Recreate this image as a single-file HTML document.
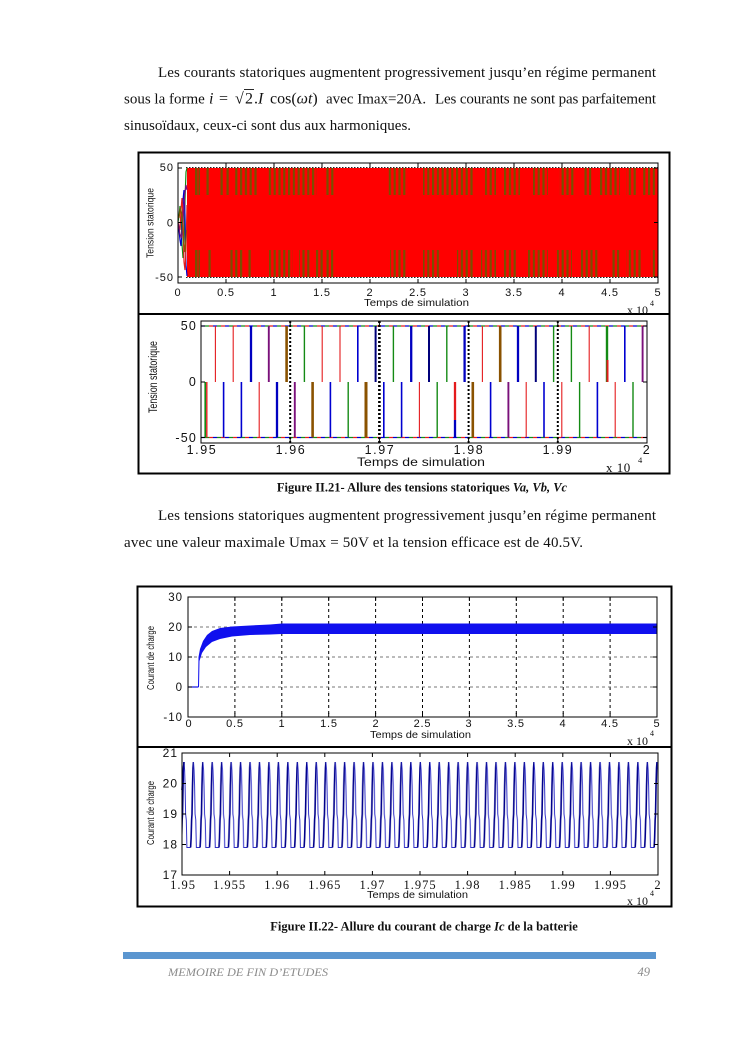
<!DOCTYPE html>
<html>
<head>
<meta charset="utf-8">
<style>
html,body{margin:0;padding:0;background:#fff;}
svg{display:block;}
.R{stroke:#e41a1c;stroke-width:1.1}
.B{stroke:#0000d0;stroke-width:1.6}
.Bk{stroke:#0000c0;stroke-width:2.3}
.N{stroke:#00007a;stroke-width:2}
.G{stroke:#148a14;stroke-width:1.4}
.Br{stroke:#8a5200;stroke-width:2.6}
.P{stroke:#7a107a;stroke-width:1.9}
.tk{font-family:"Liberation Sans",sans-serif;fill:#111;}
.sf{font-family:"Liberation Serif",serif;fill:#111;}
</style>
</head>
<body>
<svg width="745" height="1053" viewBox="0 0 745 1053" xmlns="http://www.w3.org/2000/svg">
<defs>
<pattern id="st" patternUnits="userSpaceOnUse" x="0" y="0" width="4.8" height="20">
<rect x="0" y="0" width="2.2" height="20" fill="#7a5000"/>
</pattern>
<pattern id="wave" patternUnits="userSpaceOnUse" x="184" y="0" width="9.46" height="1053">
<path d="M0,762 L0.6,770 L1.1,786 L1.6,814 L2.3,820 L2.9,847.5 L6.6,847.5" stroke="#3030c8" stroke-width="1" fill="none"/>
<path d="M6.6,847.5 L7.1,838 L7.6,820 L8.0,814 L8.5,786 L9.0,768 L9.46,762" stroke="#00008a" stroke-width="1.6" fill="none"/>
</pattern>
</defs>

<!-- Paragraph 1 -->
<g class="sf" font-size="15">
<text x="158" y="77" textLength="498" lengthAdjust="spacing">Les courants statoriques augmentent progressivement jusqu’en régime permanent</text>
<text x="124" y="103.5">sous la forme</text>
<text x="209" y="103.5" font-size="16"><tspan font-style="italic">i</tspan></text>
<text x="219" y="103.5" font-size="16">=</text>
<text x="235" y="103.5" font-size="16">√</text>
<text x="245" y="103.5" font-size="16">2</text>
<line x1="244" y1="89.5" x2="254" y2="89.5" stroke="#111" stroke-width="0.9"/>
<text x="254" y="103.5" font-size="16">.<tspan font-style="italic">I</tspan></text>
<text x="270" y="103.5" font-size="16">cos(<tspan font-style="italic">ωt</tspan>)</text>
<text x="326" y="103.5">avec Imax=20A.</text>
<text x="435" y="103.5" textLength="221" lengthAdjust="spacing">Les courants ne sont pas parfaitement</text>
<text x="124" y="130">sinusoïdaux, ceux-ci sont dus aux harmoniques.</text>
</g>

<!-- ============ FIGURE II.21 ============ -->
<rect x="138.5" y="152.5" width="531" height="321" fill="none" stroke="#000" stroke-width="2"/>
<line x1="138" y1="314" x2="670" y2="314" stroke="#000" stroke-width="2"/>

<!-- top subplot -->
<rect x="187" y="168" width="471" height="109" fill="#ff0000"/>
<g fill="#7a5000">
<rect x="195" y="168" width="2.5" height="27"/><rect x="198.5" y="168" width="1.5" height="27"/>
<rect x="206.5" y="168" width="2.2" height="27"/>
<rect x="220.5" y="168" width="2.2" height="27"/><rect x="226.5" y="168" width="2.2" height="27"/>
<rect x="195" y="250" width="2.5" height="27"/><rect x="198.5" y="250" width="1.5" height="27"/>
<rect x="208.5" y="250" width="2.2" height="27"/>
<rect x="248.5" y="250" width="2.2" height="27"/>
<rect x="316" y="250" width="2.2" height="27"/><rect x="320.5" y="250" width="2.2" height="27"/>
<rect x="326.5" y="250" width="2.2" height="27"/><rect x="331" y="250" width="2.2" height="27"/>
<rect x="612.5" y="250" width="2.2" height="27"/><rect x="617" y="250" width="2.2" height="27"/>
<rect x="584.5" y="168" width="2.2" height="27"/><rect x="589" y="168" width="2.2" height="27"/>
</g>
<g fill="url(#st)">
<rect x="235" y="168" width="22" height="27"/>
<rect x="268" y="168" width="49" height="27"/>
<rect x="325" y="168" width="9" height="27"/>
<rect x="387" y="168" width="19" height="27"/>
<rect x="423" y="168" width="52" height="27"/>
<rect x="485" y="168" width="11" height="27"/>
<rect x="504" y="168" width="16" height="27"/>
<rect x="533" y="168" width="15" height="27"/>
<rect x="559" y="168" width="16" height="27"/>
<rect x="598" y="168" width="22" height="27"/>
<rect x="626" y="168" width="11" height="27"/>
<rect x="643" y="168" width="14" height="27"/>
<rect x="228" y="250" width="15" height="27"/>
<rect x="269" y="250" width="24" height="27"/>
<rect x="299" y="250" width="11" height="27"/>
<rect x="390" y="250" width="16" height="27"/>
<rect x="423" y="250" width="18" height="27"/>
<rect x="457" y="250" width="18" height="27"/>
<rect x="481" y="250" width="15" height="27"/>
<rect x="502" y="250" width="15" height="27"/>
<rect x="526" y="250" width="22" height="27"/>
<rect x="557" y="250" width="15" height="27"/>
<rect x="581" y="250" width="18" height="27"/>
<rect x="626" y="250" width="15" height="27"/>
<rect x="650" y="250" width="7" height="27"/>
</g>
<line x1="186" y1="167.5" x2="658" y2="167.5" stroke="#222" stroke-width="1" stroke-dasharray="1.5,1.5"/>
<line x1="186" y1="277.5" x2="658" y2="277.5" stroke="#222" stroke-width="1" stroke-dasharray="1.5,1.5"/>
<!-- transient -->
<g fill="none" stroke-width="1.2">
<polyline points="178,222 179,216 180,206 181,214 182,244 183,258 184,250 185,200 186,172 187,168" stroke="#148a14"/>
<polyline points="178,223 179,230 180,240 181,246 182,230 183,200 184,190 185,215 186,265 187,276" stroke="#0000d0"/>
<polyline points="178,222 179,228 180,229 181,210 182,198 183,215 184,262 185,270 186,250 187,205" stroke="#e41a1c"/>
<polyline points="178.5,224 180,234 181.5,238 183,222 184.5,196 186,185 187,190" stroke="#7a107a"/>
<polyline points="179,218 180.5,208 182,215 183.5,240 185,252 186.5,230" stroke="#8a5200"/>
</g>
<rect x="178" y="163" width="480" height="120" fill="none" stroke="#000" stroke-width="1"/>
<path d="M226,283v-4M274,283v-4M322,283v-4M370,283v-4M418,283v-4M466,283v-4M514,283v-4M562,283v-4M610,283v-4
M226,163v4M274,163v4M322,163v4M370,163v4M418,163v4M466,163v4M514,163v4M562,163v4M610,163v4
M178,168h4M178,222.5h4M178,277h4M658,168h-4M658,222.5h-4M658,277h-4" stroke="#000" stroke-width="1" fill="none"/>
<g class="tk" font-size="11" letter-spacing="1">
<text x="174" y="171" text-anchor="end">50</text>
<text x="174" y="226.5" text-anchor="end">0</text>
<text x="174" y="281" text-anchor="end">-50</text>
</g>
<g class="tk" font-size="11" letter-spacing="0.8" text-anchor="middle">
<text x="178" y="296">0</text><text x="226" y="296">0.5</text><text x="274" y="296">1</text>
<text x="322" y="296">1.5</text><text x="370" y="296">2</text><text x="418" y="296">2.5</text>
<text x="466" y="296">3</text><text x="514" y="296">3.5</text><text x="562" y="296">4</text>
<text x="610" y="296">4.5</text><text x="658" y="296">5</text>
</g>
<text class="tk" x="364" y="306" font-size="10.5" textLength="105" lengthAdjust="spacingAndGlyphs">Temps de simulation</text>
<text class="sf" x="627" y="314" font-size="12">x 10</text>
<text class="sf" x="650" y="306" font-size="8">4</text>
<text class="tk" transform="translate(153.5,223) rotate(-90)" font-size="10.5" text-anchor="middle" textLength="70" lengthAdjust="spacingAndGlyphs">Tension statorique</text>

<!-- bottom subplot -->
<g fill="none">
<line x1="201" y1="326" x2="647" y2="326" stroke="#0000d0" stroke-width="1.2" stroke-dasharray="4,8"/>
<line x1="201" y1="326" x2="647" y2="326" stroke="#e41a1c" stroke-width="1.2" stroke-dasharray="4,8" stroke-dashoffset="4"/>
<line x1="201" y1="326" x2="647" y2="326" stroke="#148a14" stroke-width="1.2" stroke-dasharray="4,8" stroke-dashoffset="8"/>
<line x1="201" y1="437.5" x2="647" y2="437.5" stroke="#0000d0" stroke-width="1.2" stroke-dasharray="4,8"/>
<line x1="201" y1="437.5" x2="647" y2="437.5" stroke="#e41a1c" stroke-width="1.2" stroke-dasharray="4,8" stroke-dashoffset="4"/>
<line x1="201" y1="437.5" x2="647" y2="437.5" stroke="#148a14" stroke-width="1.2" stroke-dasharray="4,8" stroke-dashoffset="8"/>
</g>
<!-- upper verticals -->
<g>
<line class="R" x1="215.4" y1="326" x2="215.4" y2="382"/>
<line class="R" x1="233.2" y1="326" x2="233.2" y2="382"/>
<line class="Bk" x1="251" y1="326" x2="251" y2="382"/>
<line class="P" x1="268.8" y1="326" x2="268.8" y2="382"/>
<line class="Br" x1="286.6" y1="326" x2="286.6" y2="382"/>
<line class="G" x1="304.4" y1="326" x2="304.4" y2="382"/>
<line class="R" x1="322.2" y1="326" x2="322.2" y2="382"/>
<line class="R" x1="340" y1="326" x2="340" y2="382"/>
<line class="B" x1="357.8" y1="326" x2="357.8" y2="382"/>
<line class="N" x1="375.6" y1="326" x2="375.6" y2="382"/>
<line class="G" x1="393.4" y1="326" x2="393.4" y2="382"/>
<line class="Bk" x1="411.2" y1="326" x2="411.2" y2="382"/>
<line class="N" x1="429" y1="326" x2="429" y2="382"/>
<line class="G" x1="446.8" y1="326" x2="446.8" y2="382"/>
<line class="Bk" x1="464.6" y1="326" x2="464.6" y2="382"/>
<line class="R" x1="482.4" y1="326" x2="482.4" y2="382"/>
<line class="Br" x1="500.2" y1="326" x2="500.2" y2="382"/>
<line class="Bk" x1="518" y1="326" x2="518" y2="382"/>
<line class="N" x1="535.8" y1="326" x2="535.8" y2="382"/>
<line class="G" x1="553.6" y1="326" x2="553.6" y2="382"/>
<line class="G" x1="571.4" y1="326" x2="571.4" y2="382"/>
<line class="R" x1="589.2" y1="326" x2="589.2" y2="382"/>
<line class="G" x1="607" y1="326" x2="607" y2="382" style="stroke-width:2.4"/>
<line class="R" x1="607.5" y1="360" x2="607.5" y2="382" style="stroke-width:2"/>
<line class="B" x1="624.8" y1="326" x2="624.8" y2="382"/>
<line class="P" x1="642.6" y1="326" x2="642.6" y2="382"/>
</g>
<!-- lower verticals -->
<g>
<line class="G" x1="205.2" y1="382" x2="205.2" y2="437.5" style="stroke-width:1.6"/>
<line class="R" x1="206.8" y1="382" x2="206.8" y2="437.5" style="stroke-width:1.4"/>
<line class="B" x1="223.6" y1="382" x2="223.6" y2="437.5"/>
<line class="B" x1="241.4" y1="382" x2="241.4" y2="437.5"/>
<line class="R" x1="259.2" y1="382" x2="259.2" y2="437.5"/>
<line class="Bk" x1="277" y1="382" x2="277" y2="437.5"/>
<line class="P" x1="294.8" y1="382" x2="294.8" y2="437.5"/>
<line class="Br" x1="312.6" y1="382" x2="312.6" y2="437.5"/>
<line class="B" x1="330.4" y1="382" x2="330.4" y2="437.5"/>
<line class="G" x1="348.2" y1="382" x2="348.2" y2="437.5"/>
<line class="Br" x1="366" y1="382" x2="366" y2="437.5" style="stroke-width:3"/>
<line class="B" x1="383.8" y1="382" x2="383.8" y2="437.5"/>
<line class="B" x1="401.6" y1="382" x2="401.6" y2="437.5"/>
<line class="R" x1="419.4" y1="382" x2="419.4" y2="437.5"/>
<line class="G" x1="437.2" y1="382" x2="437.2" y2="437.5"/>
<line class="R" x1="455" y1="382" x2="455" y2="420" style="stroke-width:2.3"/>
<line class="Bk" x1="455" y1="420" x2="455" y2="437.5"/>
<line class="Br" x1="472.8" y1="382" x2="472.8" y2="437.5"/>
<line class="B" x1="490.6" y1="382" x2="490.6" y2="437.5"/>
<line class="P" x1="508.4" y1="382" x2="508.4" y2="437.5"/>
<line class="R" x1="526.2" y1="382" x2="526.2" y2="437.5"/>
<line class="B" x1="544" y1="382" x2="544" y2="437.5"/>
<line class="R" x1="561.8" y1="382" x2="561.8" y2="437.5"/>
<line class="G" x1="579.6" y1="382" x2="579.6" y2="437.5"/>
<line class="B" x1="597.4" y1="382" x2="597.4" y2="437.5"/>
<line class="R" x1="615.2" y1="382" x2="615.2" y2="437.5"/>
<line class="G" x1="633" y1="382" x2="633" y2="437.5"/>
</g>
<g stroke="#000" stroke-width="2" stroke-dasharray="2,2">
<line x1="290.2" y1="321" x2="290.2" y2="443"/>
<line x1="379.4" y1="321" x2="379.4" y2="443" stroke-width="2.6"/>
<line x1="468.6" y1="321" x2="468.6" y2="443"/>
<line x1="557.8" y1="321" x2="557.8" y2="443"/>
</g>
<rect x="201" y="321" width="446" height="122" fill="none" stroke="#000" stroke-width="1"/>
<path d="M290.2,443v-4M379.4,443v-4M468.6,443v-4M557.8,443v-4M290.2,321v4M379.4,321v4M468.6,321v4M557.8,321v4
M201,326h4M201,382h4M201,437.5h4M647,326h-4M647,382h-4M647,437.5h-4" stroke="#000" stroke-width="1" fill="none"/>
<g class="tk" font-size="12.5" letter-spacing="1.2">
<text x="197" y="330" text-anchor="end">50</text>
<text x="197" y="386" text-anchor="end">0</text>
<text x="197" y="442" text-anchor="end">-50</text>
</g>
<g class="tk" font-size="12.5" letter-spacing="1.6" text-anchor="middle">
<text x="202" y="454">1.95</text><text x="291" y="454">1.96</text><text x="380" y="454">1.97</text>
<text x="469" y="454">1.98</text><text x="558" y="454">1.99</text><text x="647" y="454">2</text>
</g>
<text class="tk" x="357" y="466" font-size="12" textLength="128" lengthAdjust="spacingAndGlyphs">Temps de simulation</text>
<text class="sf" x="606" y="472" font-size="13" letter-spacing="0.5">x 10</text>
<text class="sf" x="638" y="463" font-size="8.5">4</text>
<text class="tk" transform="translate(157,377) rotate(-90)" font-size="11.5" text-anchor="middle" textLength="72" lengthAdjust="spacingAndGlyphs">Tension statorique</text>

<text class="sf" x="422" y="491.5" font-size="12.5" font-weight="bold" text-anchor="middle">Figure II.21- Allure des tensions statoriques <tspan font-style="italic">Va, Vb, Vc</tspan></text>

<!-- Paragraph 2 -->
<g class="sf" font-size="15">
<text x="158" y="520" textLength="498" lengthAdjust="spacing">Les tensions statoriques augmentent progressivement jusqu’en régime permanent</text>
<text x="124" y="547" textLength="459" lengthAdjust="spacing">avec une valeur maximale Umax = 50V et la tension efficace est de 40.5V.</text>
</g>

<!-- ============ FIGURE II.22 ============ -->
<rect x="137.5" y="586.5" width="534" height="320" fill="none" stroke="#000" stroke-width="2"/>
<line x1="137" y1="747" x2="672" y2="747" stroke="#000" stroke-width="2"/>

<!-- top subplot -->
<g stroke="#000" stroke-width="1" stroke-dasharray="3,3" fill="none">
<line x1="234.9" y1="597" x2="234.9" y2="717"/><line x1="281.8" y1="597" x2="281.8" y2="717"/>
<line x1="328.7" y1="597" x2="328.7" y2="717"/><line x1="375.6" y1="597" x2="375.6" y2="717"/>
<line x1="422.5" y1="597" x2="422.5" y2="717"/><line x1="469.4" y1="597" x2="469.4" y2="717"/>
<line x1="516.3" y1="597" x2="516.3" y2="717"/><line x1="563.2" y1="597" x2="563.2" y2="717"/>
<line x1="610.1" y1="597" x2="610.1" y2="717"/>
</g>
<g stroke="#777" stroke-width="1" stroke-dasharray="3,3" fill="none">
<line x1="188" y1="627" x2="657" y2="627"/>
<line x1="188" y1="657" x2="657" y2="657"/>
<line x1="188" y1="687" x2="657" y2="687"/>
</g>
<line x1="188" y1="687" x2="198.5" y2="687" stroke="#1010e0" stroke-width="1.2"/>
<polygon fill="#1010ee" points="198,687 198.5,657 200,649 203,641 207,635 212,631 220,628 232,626.5 250,625.5 270,624.5 282,623.5 657,623.5 657,634 282,634 270,634.5 250,635 232,636.5 220,639 212,642 206,647 202,653 199.5,661 199,687"/>
<rect x="188" y="597" width="469" height="120" fill="none" stroke="#000" stroke-width="1"/>
<path d="M234.9,717v-4M281.8,717v-4M328.7,717v-4M375.6,717v-4M422.5,717v-4M469.4,717v-4M516.3,717v-4M563.2,717v-4M610.1,717v-4
M234.9,597v4M281.8,597v4M328.7,597v4M375.6,597v4M422.5,597v4M469.4,597v4M516.3,597v4M563.2,597v4M610.1,597v4
M188,627h4M188,657h4M188,687h4M657,627h-4M657,657h-4M657,687h-4" stroke="#000" stroke-width="1" fill="none"/>
<g class="tk" font-size="11.5" letter-spacing="1" text-anchor="end">
<text x="183" y="601">30</text><text x="183" y="631">20</text><text x="183" y="661">10</text>
<text x="183" y="691">0</text><text x="183" y="721">-10</text>
</g>
<g class="tk" font-size="11" letter-spacing="0.8" text-anchor="middle">
<text x="189" y="727">0</text><text x="235" y="727">0.5</text><text x="282" y="727">1</text>
<text x="329" y="727">1.5</text><text x="376" y="727">2</text><text x="422.5" y="727">2.5</text>
<text x="469" y="727">3</text><text x="516" y="727">3.5</text><text x="563" y="727">4</text>
<text x="610" y="727">4.5</text><text x="657" y="727">5</text>
</g>
<text class="tk" x="370" y="738" font-size="10.5" textLength="101" lengthAdjust="spacingAndGlyphs">Temps de simulation</text>
<text class="sf" x="627" y="745" font-size="12">x 10</text>
<text class="sf" x="650" y="736" font-size="8">4</text>
<text class="tk" transform="translate(154,658) rotate(-90)" font-size="10.5" text-anchor="middle" textLength="64" lengthAdjust="spacingAndGlyphs">Courant de charge</text>

<!-- bottom subplot -->
<rect x="182" y="753" width="476" height="122" fill="url(#wave)"/>
<polyline points="182,790 183,775 184,762" stroke="#00008a" stroke-width="1.6" fill="none"/>
<rect x="182" y="753" width="476" height="122" fill="none" stroke="#000" stroke-width="1"/>
<path d="M229.6,875v-4M277.2,875v-4M324.8,875v-4M372.4,875v-4M420,875v-4M467.6,875v-4M515.2,875v-4M562.8,875v-4M610.4,875v-4
M229.6,753v4M277.2,753v4M324.8,753v4M372.4,753v4M420,753v4M467.6,753v4M515.2,753v4M562.8,753v4M610.4,753v4
M182,783.5h4M182,814h4M182,844.5h4M658,783.5h-4M658,814h-4M658,844.5h-4" stroke="#000" stroke-width="1" fill="none"/>
<g class="tk" font-size="12" letter-spacing="1" text-anchor="end">
<text x="178" y="757">21</text><text x="178" y="787.5">20</text><text x="178" y="818">19</text>
<text x="178" y="848.5">18</text><text x="178" y="879">17</text>
</g>
<g class="sf" font-size="12.5" letter-spacing="1" text-anchor="middle">
<text x="183" y="889">1.95</text><text x="229.6" y="889">1.955</text><text x="277.2" y="889">1.96</text>
<text x="324.8" y="889">1.965</text><text x="372.4" y="889">1.97</text><text x="420" y="889">1.975</text>
<text x="467.6" y="889">1.98</text><text x="515.2" y="889">1.985</text><text x="562.8" y="889">1.99</text>
<text x="610.4" y="889">1.995</text><text x="658" y="889">2</text>
</g>
<text class="tk" x="367" y="898" font-size="10.5" textLength="101" lengthAdjust="spacingAndGlyphs">Temps de simulation</text>
<text class="sf" x="627" y="905" font-size="12">x 10</text>
<text class="sf" x="650" y="896" font-size="8">4</text>
<text class="tk" transform="translate(154,813) rotate(-90)" font-size="10.5" text-anchor="middle" textLength="64" lengthAdjust="spacingAndGlyphs">Courant de charge</text>

<text class="sf" x="424" y="930.5" font-size="12.5" font-weight="bold" text-anchor="middle">Figure II.22- Allure du courant de charge <tspan font-style="italic">Ic</tspan> de la batterie</text>

<!-- footer -->
<rect x="123" y="952" width="533" height="7" fill="#5b96d0"/>
<text x="168" y="976" font-family="'Liberation Serif',serif" font-style="italic" font-size="12" fill="#8a8a8a" textLength="160" lengthAdjust="spacingAndGlyphs">MEMOIRE DE FIN D’ETUDES</text>
<text x="650" y="976" font-family="'Liberation Serif',serif" font-style="italic" font-size="12.5" fill="#8a8a8a" text-anchor="end">49</text>
</svg>
</body>
</html>
